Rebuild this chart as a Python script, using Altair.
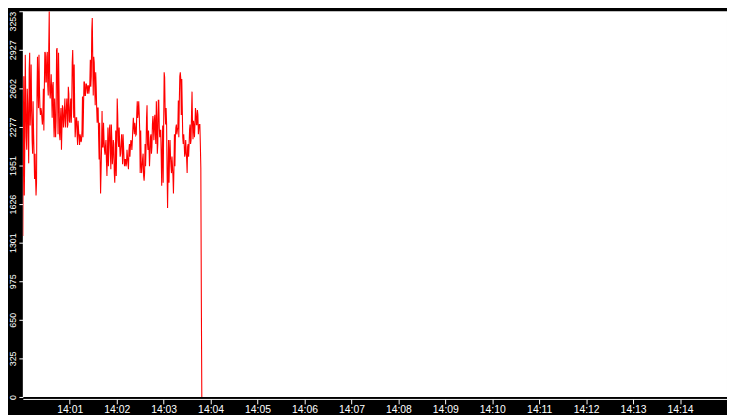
import altair as alt
import pandas as pd

# First sample and the final drop
start_vals = [1357, 2272]
end_vals = [1929, 858, 0]

# Per-sample-pair highs and lows (value units)
highs = [2705, 2885, 2477, 2599, 2477, 2763, 2902, 2803, 2436, 2493, 2215, 2052, 1864, 2575,
         2869, 2885, 2599, 2436, 2411, 2379, 2599, 2910, 2902, 2869, 2910, 2942, 3253, 2599,
         2722, 2624, 2656, 2517, 2354, 2926, 2942, 2902, 2599, 2354, 2436, 2460, 2436, 2411,
         2517, 2436, 2517, 2616, 2558, 2436, 2517, 2820, 2926, 2803, 2436, 2354, 2354, 2329,
         2248, 2215, 2191, 2248, 2534, 2656, 2656, 2640, 2640, 2624, 2624, 2640, 2844, 3090,
         3196, 2869, 2820, 2738, 2616, 2436, 2436, 2313, 2003, 2109, 2411, 2313, 2174, 2109,
         2166, 2052, 2272, 2256, 2297, 2297, 2166, 2166, 2133, 1970, 2248, 2517, 2379, 2272,
         2133, 2133, 2215, 2215, 2109, 2003, 2003, 2084, 2027, 2084, 2133, 2166, 2150, 2272,
         2354, 2313, 2272, 2395, 2493, 2493, 2395, 2248, 1970, 2010, 2052, 1888, 2133, 2354,
         2460, 2248, 2109, 2191, 2215, 2297, 2370, 2338, 2379, 2493, 2354, 2501, 2501, 2248,
         2248, 2084, 2289, 2738, 2697, 2436, 2297, 1888, 2166, 2166, 2027, 2027, 1945, 1921,
         2215, 2272, 2297, 2272, 2501, 2705, 2738, 2681, 2452, 2215, 2133, 2166, 2084, 2109,
         2133, 2256, 2297, 2395, 2575, 2329, 2289, 2436, 2395, 2419, 2379, 2297, 2297]
lows = [1700, 2092, 2191, 2084, 2215, 1970, 2289, 2436, 2166, 2052, 2043, 1839, 1700, 1806,
        2575, 2436, 2436, 2379, 2354, 2297, 2248, 2599, 2656, 2656, 2624, 2542, 2583, 2517,
        2542, 2354, 2329, 2191, 2191, 2329, 2575, 2215, 2215, 2166, 2084, 2272, 2272, 2329,
        2272, 2379, 2272, 2297, 2329, 2313, 2313, 2436, 2705, 2354, 2191, 2272, 2215, 2125,
        2191, 2125, 2150, 2166, 2191, 2411, 2542, 2542, 2599, 2558, 2558, 2599, 2616, 2705,
        2844, 2542, 2624, 2460, 2436, 2313, 2191, 2003, 1716, 1904, 2109, 2109, 2084, 2043,
        1986, 1864, 1945, 2109, 2068, 1921, 1962, 2027, 1888, 1806, 1864, 2109, 2166, 2109,
        2027, 2052, 2109, 1962, 2003, 1945, 1945, 1970, 1970, 1921, 2027, 2109, 2084, 2166,
        2272, 2215, 2207, 2215, 2354, 2395, 2248, 1888, 1888, 1945, 1864, 1823, 1945, 2109,
        2133, 2084, 1945, 2052, 2052, 2109, 2272, 2166, 2215, 2133, 2052, 2133, 2272, 2191,
        2027, 1782, 1806, 2272, 2411, 2297, 1888, 1594, 1806, 2027, 1945, 1888, 1864, 1716,
        1945, 2191, 2215, 2248, 2191, 2493, 2681, 2379, 2191, 2133, 2027, 2052, 2003, 1888,
        2027, 2125, 2133, 2166, 2297, 2174, 2191, 2297, 2297, 2297, 2215, 2272, 2133]

y_ticks = [0, 325.3, 650.6, 975.9, 1301.2, 1626.5, 1951.8, 2277.1, 2602.4, 2927.7, 3253]
x_tick_minutes = [1, 2, 3, 4, 5, 6, 7, 8, 9, 10, 11, 12, 13, 14]

seq = list(start_vals)
for i, (h, l) in enumerate(zip(highs, lows)):
    seq += [h, l] if i % 2 == 0 else [l, h]
seq += end_vals

t0 = pd.Timestamp("2020-01-01 14:00:00")
df = pd.DataFrame({
    "t": [t0 + pd.Timedelta(seconds=0.625 * k) for k in range(len(seq))],
    "v": seq,
})
df["t"] = df["t"].dt.strftime("%Y-%m-%dT%H:%M:%S.%f").str[:-3]

x_values = [alt.DateTime(year=2020, month=1, date=1, hours=14, minutes=m) for m in x_tick_minutes]

chart = alt.Chart(df).mark_line(color="#ff0000", strokeWidth=1.1, clip=True).encode(
    x=alt.X("t:T", title=None,
            scale=alt.Scale(domain=[alt.DateTime(year=2020, month=1, date=1, hours=14, minutes=0),
                                    alt.DateTime(year=2020, month=1, date=1, hours=14, minutes=15)]),
            axis=alt.Axis(values=x_values, format="%H:%M", grid=False, domainColor="white",
                          tickColor="white", labelColor="white", tickSize=5, offset=2,
                          labelFont="Liberation Sans", labelFontSize=10.5, labelPadding=1,
                          zindex=1)),
    y=alt.Y("v:Q", title=None,
            scale=alt.Scale(domain=[0, 3253], nice=False, zero=True),
            axis=alt.Axis(values=y_ticks, labelExpr="floor(datum.value)", grid=False,
                          domain=False, tickColor="white", labelColor="white", tickSize=4,
                          labelAngle=270,
                          labelAlign={"condition": {"test": "datum.value >= 3253", "value": "right"},
                                      "value": "center"},
                          labelBaseline="bottom",
                          labelFont="Liberation Sans", labelFontSize=9, labelPadding=1)),
).properties(
    width=727, height=410,
    autosize=alt.AutoSizeParams(type="fit", contains="padding"),
    padding=0,
    background="black",
).configure_view(fill="white", strokeWidth=0)

chart.save("out.html", embed_options={"renderer": "svg", "actions": False})
